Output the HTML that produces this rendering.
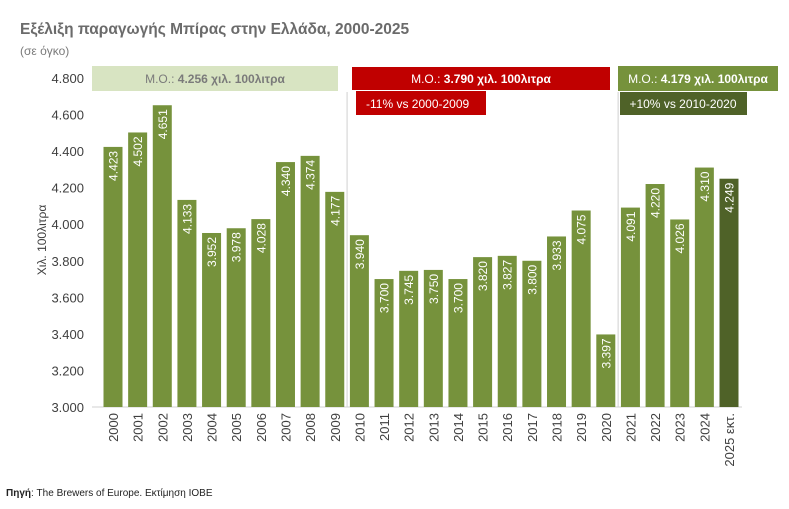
<!DOCTYPE html>
<html><head><meta charset="utf-8"><style>
body{margin:0;background:#fff;font-family:"Liberation Sans","Noto Sans CJK SC",sans-serif}
svg text{font-family:"Liberation Sans","Noto Sans CJK SC",sans-serif}
</style></head><body>
<svg id="c" width="789" height="504" viewBox="0 0 789 504">
<text x="20" y="34" font-size="15.5" font-weight="bold" fill="#6b6b6b">Εξέλιξη παραγωγής Μπίρας στην Ελλάδα, 2000-2025</text>
<text x="20" y="55" font-size="12" fill="#7a7a7a">(σε όγκο)</text>
<text transform="translate(46,240) rotate(-90)" text-anchor="middle" font-size="12" fill="#404040">Χιλ. 100λιτρα</text>
<g id="axes"></g>
<g id="bars"></g>
<rect x="92" y="66" width="246" height="25" fill="#d8e4c2"/>
<text x="215" y="83" text-anchor="middle" font-size="12" fill="#7a7a7a">Μ.Ο.: <tspan font-weight="bold">4.256 χιλ. 100λιτρα</tspan></text>
<rect x="352" y="67" width="258" height="23" fill="#c00000"/>
<text x="481" y="83" text-anchor="middle" font-size="12" fill="#fff">Μ.Ο.: <tspan font-weight="bold">3.790 χιλ. 100λιτρα</tspan></text>
<rect x="356" y="91" width="130" height="24" fill="#c00000"/>
<text x="366" y="108" font-size="12" fill="#fff">-11% vs 2000-2009</text>
<rect x="618" y="66" width="160" height="25" fill="#76923c"/>
<text x="698" y="83" text-anchor="middle" font-size="12" fill="#fff">Μ.Ο.: <tspan font-weight="bold">4.179 χιλ. 100λιτρα</tspan></text>
<rect x="620" y="92" width="127" height="23" fill="#4f6228"/>
<text x="683" y="108" text-anchor="middle" font-size="12" fill="#fff">+10% vs 2010-2020</text>
<text x="6" y="496" font-size="10" fill="#222"><tspan font-weight="bold">Πηγή</tspan>: The Brewers of Europe. Εκτίμηση ΙΟΒΕ</text>
</svg>
<script>
const categories=["2000","2001","2002","2003","2004","2005","2006","2007","2008","2009","2010","2011","2012","2013","2014","2015","2016","2017","2018","2019","2020","2021","2022","2023","2024","2025 εκτ."];
const values=[4423,4502,4651,4133,3952,3978,4028,4340,4374,4177,3940,3700,3745,3750,3700,3820,3827,3800,3933,4075,3397,4091,4220,4026,4310,4249];
const valueLabels=["4.423","4.502","4.651","4.133","3.952","3.978","4.028","4.340","4.374","4.177","3.940","3.700","3.745","3.750","3.700","3.820","3.827","3.800","3.933","4.075","3.397","4.091","4.220","4.026","4.310","4.249"];
const yTicks=[3000,3200,3400,3600,3800,4000,4200,4400,4600,4800];
const yTickLabels=["3.000","3.200","3.400","3.600","3.800","4.000","4.200","4.400","4.600","4.800"];
const NS="http://www.w3.org/2000/svg";
const y=v=>407-(v-3000)/1800*329;
const x=i=>113+i*24.64;
const ax=document.getElementById('axes'),bg=document.getElementById('bars');
function mk(tag,attrs,parent,txt){const e=document.createElementNS(NS,tag);for(const k in attrs)e.setAttribute(k,attrs[k]);if(txt!==undefined)e.textContent=txt;parent.appendChild(e);return e;}
yTicks.forEach((t,i)=>{
 const e=mk('text',{x:84,y:y(t)+5,'text-anchor':'end','font-size':13,fill:'#404040'},ax,yTickLabels[i]);
 
 
});
[9.5,20.5].forEach(p=>{
 const l=mk('line',{x1:x(p),x2:x(p),y1:92,y2:407,stroke:'#d0d0d0','stroke-width':1},ax);
 
 
});
const base=mk('line',{x1:92,x2:742,y1:407,y2:407,stroke:'#d0d0d0'},ax);


values.forEach((v,i)=>{
 const cx=x(i),top=y(v);
 const r=mk('rect',{x:cx-9.5,y:top,width:19,height:407-top,fill:i===25?'#4f6228':'#76923c'},bg);
 
 
 const t=mk('text',{transform:`translate(${cx+4.5},${top+4}) rotate(-90)`,'text-anchor':'end','font-size':12,fill:'#fff'},bg,valueLabels[i]);
 
 
 const c=mk('text',{transform:`translate(${cx+5},${413}) rotate(-90)`,'text-anchor':'end','font-size':13,fill:'#404040'},ax,categories[i]);
 
 
});
</script>
</body></html>
